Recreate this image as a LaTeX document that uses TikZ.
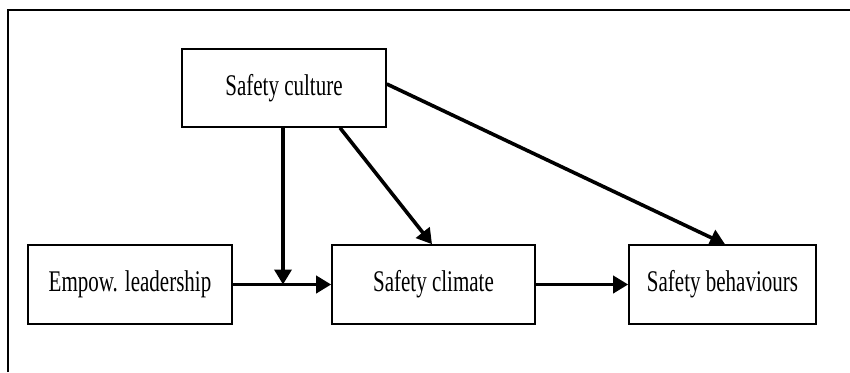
\documentclass[tikz,border=0pt]{standalone}
\usepackage{fontspec}
\setmainfont{Liberation Serif}
\usetikzlibrary{arrows.meta}
\newcommand\sqz[1]{\scalebox{0.7}[1]{#1}}
\begin{document}
\begin{tikzpicture}[x=1pt,y=-1pt,
  box/.style={draw,line width=1.6pt,minimum height=79pt,inner sep=0pt,
    font=\fontsize{30}{31}\selectfont},
  arr/.style={line width=3.6pt,-{Triangle[length=15pt,width=17pt]}}]
\useasboundingbox[fill=white] (0,0) rectangle (850,372);
\draw[line width=1.6pt] (8,372) -- (8,10) -- (850,10);
\node[box,minimum width=204pt,minimum height=78pt] (c) at (284,88) {\sqz{Safety culture}};
\node[box,minimum width=204pt] (e) at (130,284.5) {\sqz{Empow. leadership}};
\node[box,minimum width=203pt] (cl) at (433.5,284.5) {\sqz{Safety climate}};
\node[box,minimum width=187pt] (b) at (722.5,284.5) {\sqz{Safety behaviours}};
\coordinate (j) at ([xshift=-1pt]c.south |- e.east);
\draw[arr] (e.east) -- (cl.west);
\draw[arr] ([xshift=-1pt]c.south) -- (j);
\draw[arr] ([xshift=56pt]c.south) -- ([xshift=-1.5pt]cl.north);
\draw[arr] ([yshift=4pt]c.east) -- ([xshift=2.5pt]b.north);
\draw[arr] (cl.east) -- (b.west);
\end{tikzpicture}
\end{document}
